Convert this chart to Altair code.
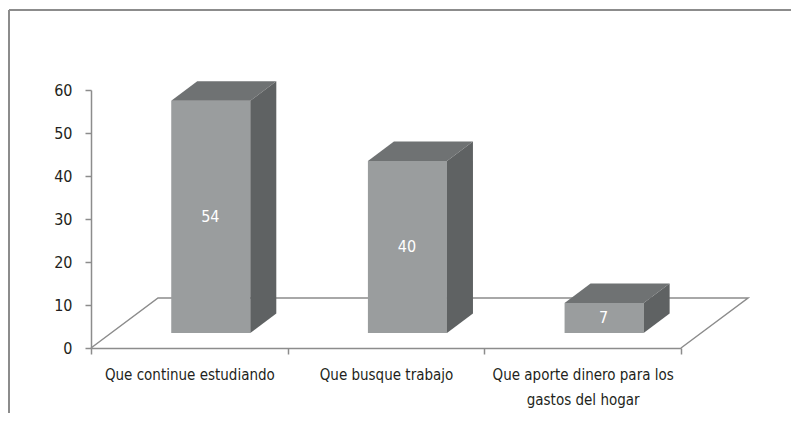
import altair as alt
import pandas as pd

# ---- data ----
categories = ["Que continue estudiando", "Que busque trabajo",
              "Que aporte dinero para los gastos del hogar"]
values = [54, 40, 7]
y_ticks = [0, 10, 20, 30, 40, 50, 60]

# ---- style constants (pixels) ----
W, H = 590, 258
PX_X = W / len(categories)          # px per category unit
PX_Y = H / 60                       # px per value unit
BAR_L, BAR_R = 0.408, 0.81          # front face extent within a band
BASE_PX = 15                        # bar base lifted into the floor
DDX, DDY = 26 / PX_X, 19.5 / PX_Y   # bar depth
FDX, FDY = 67 / PX_X, 50 / PX_Y     # floor depth
BASE = BASE_PX / PX_Y

FRONT = "#9a9d9e"
TOP = "#6f7273"
SIDE = "#5f6263"
LINE = "#8c8c8c"
TXT = "#231f20"
FONT = "'Liberation Sans Narrow', 'DejaVu Sans Condensed', 'Roboto Condensed', 'Open Sans Condensed', Roboto, sans-serif"
FS = 15

front_rows, top_rows, side_rows = [], [], []
for i, (c, v) in enumerate(zip(categories, values)):
    xl, xr = i + BAR_L, i + BAR_R
    yb, yt = BASE, BASE + v
    front_rows.append(dict(cat=c, xl=xl, xr=xr, yb=yb, yt=yt, mid=(yb + yt) / 2, v=v))
    for x, y, y2 in [(xl, yt, yt), (xl + DDX, yt + DDY, yt),
                     (xr, yt + DDY, yt), (xr + DDX, yt + DDY, yt + DDY)]:
        top_rows.append(dict(cat=c, x=x, y=y, y2=y2))
    for x, y, y2 in [(xr, yt, yb), (xr + DDX, yt + DDY, yb + DDY)]:
        side_rows.append(dict(cat=c, x=x, y=y, y2=y2))

front = pd.DataFrame(front_rows)
top = pd.DataFrame(top_rows)
side = pd.DataFrame(side_rows)
n = len(categories)
floor = pd.DataFrame(dict(x=[0, FDX, n + FDX, n], y=[0, FDY, FDY, 0], o=[0, 1, 2, 3]))

xq = dict(scale=alt.Scale(domain=[0, n], nice=False, zero=False), axis=None)
yq = dict(scale=alt.Scale(domain=[0, 60], nice=False), title=None)

frame = alt.Chart(pd.DataFrame({"k": [0]})).mark_rule(color=LINE, strokeWidth=2).encode(
    x=alt.value(-82), y=alt.value(-80), y2=alt.value(330))
frame_top = alt.Chart(pd.DataFrame({"k": [0]})).mark_rule(color=LINE, strokeWidth=2).encode(
    x=alt.value(-82), x2=alt.value(712), y=alt.value(-80))

floor_l = alt.Chart(floor).mark_line(color=LINE, strokeWidth=1.5).encode(
    x=alt.X("x:Q", **xq), y=alt.Y("y:Q", **yq), order="o:O")

front_l = alt.Chart(front).mark_rect(color=FRONT).encode(
    x=alt.X("xl:Q", **xq), x2="xr:Q",
    y=alt.Y("yb:Q", scale=alt.Scale(domain=[0, 60], nice=False), title=None,
            axis=alt.Axis(values=y_ticks)),
    y2="yt:Q")

top_l = alt.Chart(top).mark_area(color=TOP, opacity=1).encode(
    x=alt.X("x:Q", **xq), y=alt.Y("y:Q", **yq), y2="y2:Q", detail="cat:N")

side_l = alt.Chart(side).mark_area(color=SIDE, opacity=1).encode(
    x=alt.X("x:Q", **xq), y=alt.Y("y:Q", **yq), y2="y2:Q", detail="cat:N")

label_expr = ("datum.label == 'Que aporte dinero para los gastos del hogar' ? "
              "['Que aporte dinero para los', 'gastos del hogar'] : datum.label")

text_l = alt.Chart(front).mark_text(color="white", font=FONT, fontSize=16, dx=21).encode(
    x=alt.X("cat:N", sort=categories,
            scale=alt.Scale(paddingInner=0, paddingOuter=0),
            axis=alt.Axis(title=None, labelAngle=0, tickBand="extent",
                          labelExpr=label_expr, labelLimit=0,
                          labelLineHeight=25)),
    y=alt.Y("mid:Q", **yq),
    text="v:Q")

chart = alt.layer(frame, frame_top, floor_l, front_l, top_l, side_l, text_l).resolve_scale(
    x="independent"
).properties(
    width=W, height=H,
    padding={"left": 83, "top": 82, "right": 110, "bottom": 65},
    autosize=alt.AutoSizeParams(type="none"),
    background="white",
).configure_view(stroke=None).configure_axis(
    domainColor=LINE, domainWidth=1.5, tickColor=LINE, tickWidth=1.5, tickSize=6,
    grid=False, labelFont=FONT, labelFontSize=FS, labelColor=TXT,
).configure_axisY(labelPadding=13, labelFontSize=16).configure_axisX(labelPadding=13)

chart.save("out.html", embed_options={"renderer": "svg", "actions": False})
